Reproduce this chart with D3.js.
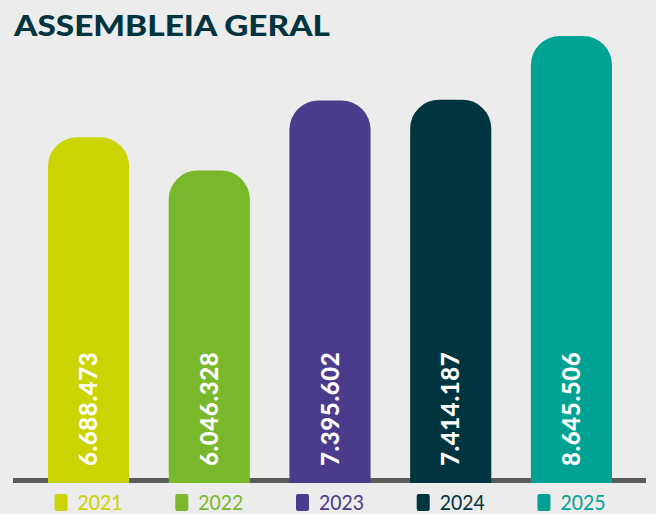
<!DOCTYPE html>
<html>
<head>
<meta charset="utf-8">
<script src="https://cdn.jsdelivr.net/npm/d3@7"></script>
<style>
  html, body { margin: 0; padding: 0; background: #ececec; }
  svg { display: block; }
</style>
</head>
<body>
<div id="chart"></div>
<script>
const years = ["2021", "2022", "2023", "2024", "2025"];
const values = [6688473, 6046328, 7395602, 7414187, 8645506];
const labels = ["6.688.473", "6.046.328", "7.395.602", "7.414.187", "8.645.506"];
const colors = ["#cbd300", "#78b82a", "#4b3b8c", "#00343e", "#00a294"];
const title = "ASSEMBLEIA GERAL";

const W = 656, H = 514;
const baseY = 483;

const svg = d3.select("#chart").append("svg")
  .attr("width", W).attr("height", H);

svg.append("rect").attr("width", W).attr("height", H).attr("fill", "#ececec");

// title
svg.append("text")
  .attr("x", 14).attr("y", 36)
  .attr("fill", "#00343e")
  .attr("font-family", "Lato, 'Open Sans', sans-serif")
  .attr("font-weight", 900)
  .attr("font-size", 29)
  .attr("textLength", 316)
  .attr("lengthAdjust", "spacingAndGlyphs")
  .text(title);

const x = d3.scaleBand().domain(years).range([48, 612]).paddingInner(0.328).paddingOuter(0);
const y = d3.scaleLinear().domain([0, d3.max(values)]).range([baseY, 36]);

// baseline axis line
svg.append("rect")
  .attr("x", 13).attr("y", 478).attr("width", 633).attr("height", 5)
  .attr("fill", "#5b5b5b");

function topRounded(x0, y0, w, yb, r) {
  const p = d3.path();
  p.moveTo(x0, yb);
  p.lineTo(x0, y0 + r);
  p.arcTo(x0, y0, x0 + r, y0, r);
  p.lineTo(x0 + w - r, y0);
  p.arcTo(x0 + w, y0, x0 + w, y0 + r, r);
  p.lineTo(x0 + w, yb);
  p.closePath();
  return p.toString();
}

const data = years.map((yr, i) => ({ yr, v: values[i], label: labels[i], c: colors[i] }));

svg.selectAll("path.bar").data(data).join("path")
  .attr("class", "bar")
  .attr("fill", d => d.c)
  .attr("d", d => topRounded(x(d.yr), y(d.v), x.bandwidth(), baseY, 29));

// value labels (vertical)
svg.selectAll("text.val").data(data).join("text")
  .attr("class", "val")
  .attr("transform", d => `translate(${x(d.yr) + x.bandwidth() / 2 + 8.5},466) rotate(-90)`)
  .attr("fill", "#ffffff")
  .attr("font-family", "Lato, 'Open Sans', sans-serif")
  .attr("font-weight", 900)
  .attr("font-size", 24)
  .attr("letter-spacing", 0.6)
  .text(d => d.label);

// legend
const lg = svg.selectAll("g.leg").data(data).join("g")
  .attr("class", "leg")
  .attr("transform", d => `translate(${x(d.yr) + x.bandwidth() / 2},0)`);

lg.append("rect")
  .attr("x", -34).attr("y", 494).attr("width", 13).attr("height", 17)
  .attr("rx", 2)
  .attr("fill", d => d.c);

lg.append("text")
  .attr("x", -11).attr("y", 509.5)
  .attr("fill", d => d.c)
  .attr("font-family", "Lato, 'Open Sans', sans-serif")
  .attr("font-weight", 400)
  .attr("font-size", 22)
  .attr("textLength", 45)
  .attr("lengthAdjust", "spacingAndGlyphs")
  .text(d => d.yr);
</script>
</body>
</html>
